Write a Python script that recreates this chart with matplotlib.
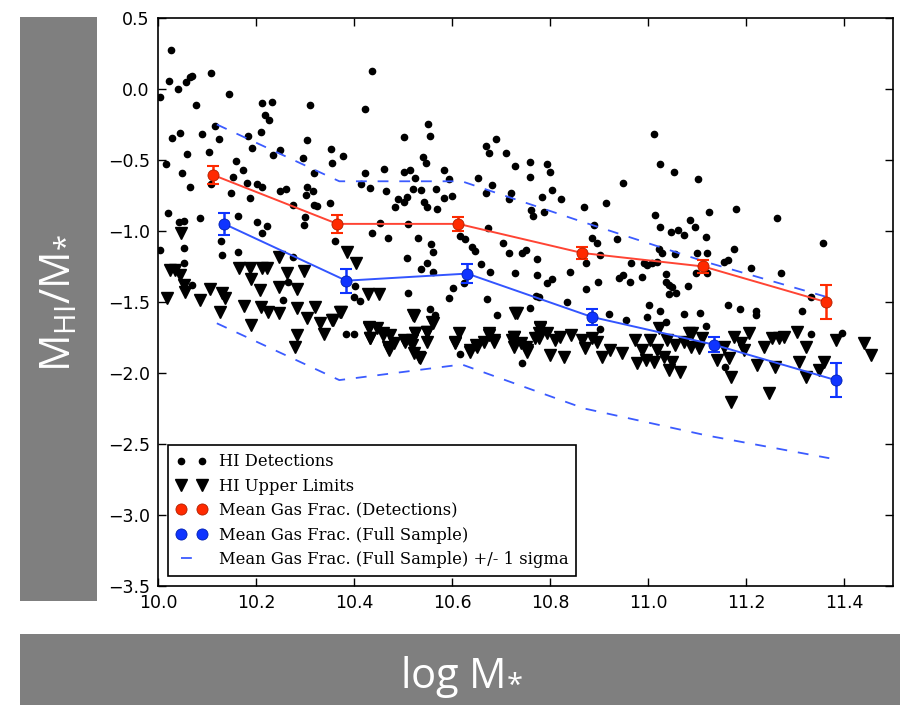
import numpy as np
import matplotlib
matplotlib.use("Agg")
import matplotlib.pyplot as plt
from matplotlib.patches import Rectangle

# HI detections (log M*, MHI/M*)
det_x = [10.003, 10.026, 10.016, 10.023, 10.041, 10.057, 10.065, 10.070, 10.077, 10.029,
         10.045, 10.060, 10.048, 10.065, 10.089, 10.104, 10.108, 10.116, 10.125, 10.108,
         10.145, 10.159, 10.153, 10.149, 10.174, 10.183, 10.191, 10.181, 10.188, 10.203,
         10.212, 10.212, 10.219, 10.227, 10.232, 10.210, 10.234, 10.249, 10.248, 10.261,
         10.295, 10.304, 10.311, 10.318, 10.304, 10.301, 10.317, 10.353, 10.355, 10.377,
         10.422, 10.437, 10.423, 10.432, 10.415, 10.462, 10.466, 10.490, 10.503, 10.502,
         10.514, 10.524, 10.508, 10.520, 10.537, 10.541, 10.546, 10.551, 10.556, 10.567,
         10.584, 10.594, 10.584, 10.600, 10.654, 10.669, 10.676, 10.689, 10.681, 10.670,
         10.710, 10.728, 10.721, 10.716, 10.760, 10.759, 10.783, 10.794, 10.799, 10.804,
         10.823, 10.950, 11.013, 11.025, 11.054, 11.103,
         10.021, 10.052, 10.043, 10.086, 10.003, 10.052, 10.052, 10.070, 10.128, 10.131,
         10.164, 10.164, 10.203, 10.222, 10.213, 10.276, 10.266, 10.255, 10.276, 10.299,
         10.297, 10.324, 10.350, 10.319, 10.362, 10.402, 10.399, 10.413, 10.384, 10.400,
         10.437, 10.454, 10.469, 10.511, 10.530, 10.558, 10.561, 10.509, 10.548, 10.537,
         10.561, 10.511, 10.556, 10.565, 10.484, 10.501, 10.542, 10.549, 10.569, 10.617,
         10.627, 10.641, 10.646, 10.660, 10.677, 10.673, 10.705, 10.716, 10.743, 10.750,
         10.774, 10.761, 10.765, 10.774, 10.777, 10.759, 10.671, 10.692, 10.594, 10.602,
         10.624, 10.616, 10.743, 10.729, 10.793, 10.787,
         10.870, 10.914, 10.889, 10.885, 10.895, 10.903, 10.874, 10.874, 10.898, 10.840,
         10.936, 10.940, 10.949, 10.964, 10.966, 10.988, 10.992, 10.998, 11.009, 11.019,
         11.015, 11.024, 11.047, 11.061, 11.073, 11.085, 11.095, 11.119, 11.124, 11.179,
         11.264, 11.022, 11.029, 11.056, 11.101, 11.121, 11.155, 11.163, 11.175, 11.211,
         11.271, 11.120, 11.098, 11.082, 11.036, 11.037, 11.043, 11.049, 11.058, 11.043,
         11.002, 11.024, 10.998, 11.036, 11.073, 11.106, 11.163, 11.188, 11.220, 11.220,
         11.315, 11.332, 11.358, 11.332, 11.395, 10.920, 10.956, 10.902, 10.804, 10.835,
         10.772, 11.118, 11.157]
det_y = [-0.059, 0.275, -0.528, 0.056, -0.002, 0.049, 0.087, 0.092, -0.110, -0.343,
         -0.312, -0.460, -0.594, -0.692, -0.319, -0.444, 0.115, -0.261, -0.352, -0.669,
         -0.035, -0.505, -0.617, -0.735, -0.570, -0.329, -0.418, -0.660, -0.765, -0.669,
         -0.692, -0.101, -0.183, -0.218, -0.094, -0.303, -0.467, -0.430, -0.718, -0.704,
         -0.486, -0.362, -0.110, -0.594, -0.692, -0.746, -0.718, -0.420, -0.519, -0.469,
         -0.143, 0.124, -0.594, -0.695, -0.669, -0.561, -0.718, -0.777, -0.336, -0.585,
         -0.570, -0.629, -0.758, -0.704, -0.711, -0.477, -0.519, -0.244, -0.329, -0.704,
         -0.570, -0.636, -0.770, -0.751, -0.627, -0.401, -0.453, -0.352, -0.676, -0.735,
         -0.453, -0.542, -0.735, -0.777, -0.512, -0.617, -0.758, -0.528, -0.587, -0.711,
         -0.777, -0.660, -0.319, -0.528, -0.587, -0.636,
         -0.876, -0.927, -0.934, -0.911, -1.134, -1.117, -1.223, -1.380, -1.068, -1.169,
         -0.894, -1.146, -0.934, -0.965, -1.012, -1.186, -1.359, -1.486, -0.817, -0.899,
         -0.958, -0.824, -0.805, -0.817, -1.071, -1.387, -1.467, -1.491, -1.725, -1.725,
         -1.016, -0.946, -1.052, -0.951, -1.052, -1.094, -1.146, -1.193, -1.228, -1.270,
         -1.287, -1.434, -1.552, -1.592, -0.833, -0.793, -0.793, -0.829, -0.847, -1.035,
         -1.054, -1.110, -1.139, -1.232, -1.287, -0.981, -1.087, -1.153, -1.157, -1.134,
         -1.200, -0.852, -0.894, -1.310, -1.463, -1.545, -1.479, -1.592, -1.474, -1.401,
         -1.368, -1.869, -1.927, -1.294, -1.364, -0.864,
         -0.833, -0.805, -0.958, -1.052, -1.087, -1.169, -1.228, -1.411, -1.357, -1.287,
         -1.059, -1.333, -1.310, -1.357, -1.223, -1.326, -1.223, -1.239, -1.228, -1.216,
         -0.887, -0.975, -1.010, -0.993, -1.028, -0.923, -0.975, -1.045, -0.864, -0.845,
         -0.911, -1.129, -1.153, -1.162, -1.153, -1.157, -1.216, -1.204, -1.129, -1.263,
         -1.293, -1.293, -1.293, -1.387, -1.303, -1.357, -1.380, -1.397, -1.439, -1.443,
         -1.521, -1.561, -1.608, -1.638, -1.587, -1.575, -1.521, -1.552, -1.561, -1.592,
         -1.561, -1.467, -1.087, -1.725, -1.720, -1.585, -1.627, -1.692, -1.336, -1.498,
         -1.456, -1.672, -1.958]

# HI upper limits
lim_x = [10.046, 10.025, 10.035, 10.045, 10.052, 10.055, 10.018, 10.086, 10.106, 10.130,
         10.137, 10.127, 10.166, 10.188, 10.212, 10.222, 10.189, 10.208, 10.246, 10.263,
         10.283, 10.298, 10.246, 10.176, 10.189, 10.210, 10.225, 10.246, 10.283, 10.304,
         10.321, 10.331, 10.338, 10.355, 10.373, 10.283, 10.280, 10.385, 10.404, 10.428,
         10.450, 10.430, 10.433, 10.460, 10.471, 10.501, 10.518, 10.522, 10.534, 10.525,
         10.549, 10.561, 10.522, 10.607, 10.637, 10.648, 10.675, 10.685, 10.733, 10.723,
         10.750, 10.753, 10.780, 10.777, 10.794,
         10.372, 10.357, 10.430, 10.433, 10.447, 10.460, 10.474, 10.470, 10.481, 10.505,
         10.518, 10.525, 10.532, 10.549, 10.549, 10.559, 10.520, 10.607, 10.614, 10.637,
         10.651, 10.665, 10.675, 10.685, 10.726, 10.726, 10.729,
         10.726, 10.740, 10.753, 10.770, 10.780, 10.777, 10.801, 10.811, 10.828, 10.821,
         10.842, 10.866, 10.872, 10.886, 10.896, 10.906, 10.923, 10.947, 10.974, 10.978,
         10.988, 10.995, 11.005, 11.012, 11.019, 11.022, 11.032, 11.039, 11.049, 11.066,
         11.042, 11.056, 11.073, 11.083, 11.087,
         11.090, 11.111, 11.104, 11.141, 11.155, 11.165, 11.175, 11.169, 11.189, 11.196,
         11.206, 11.223, 11.236, 11.254, 11.267, 11.277, 11.260, 11.305, 11.308, 11.322,
         11.322, 11.359, 11.349, 11.383, 11.441, 11.455, 11.247, 11.169]
lim_y = [-1.016, -1.275, -1.275, -1.310, -1.380, -1.427, -1.474, -1.486, -1.411, -1.434,
         -1.474, -1.568, -1.263, -1.263, -1.263, -1.263, -1.338, -1.416, -1.186, -1.298,
         -1.411, -1.279, -1.397, -1.528, -1.662, -1.538, -1.568, -1.580, -1.545, -1.615,
         -1.538, -1.650, -1.725, -1.627, -1.568, -1.732, -1.815, -1.146, -1.223, -1.446,
         -1.446, -1.685, -1.756, -1.720, -1.838, -1.768, -1.768, -1.862, -1.897, -1.720,
         -1.709, -1.646, -1.596, -1.791, -1.850, -1.803, -1.732, -1.768, -1.580, -1.768,
         -1.815, -1.850, -1.685, -1.756, -1.720,
         -1.568, -1.627, -1.674, -1.756, -1.686, -1.732, -1.732, -1.815, -1.791, -1.780,
         -1.803, -1.720, -1.885, -1.709, -1.780, -1.639, -1.592, -1.780, -1.720, -1.838,
         -1.815, -1.780, -1.720, -1.780, -1.815, -1.744, -1.580,
         -1.744, -1.791, -1.838, -1.756, -1.674, -1.720, -1.873, -1.768, -1.885, -1.744,
         -1.732, -1.768, -1.826, -1.756, -1.780, -1.885, -1.838, -1.862, -1.768, -1.932,
         -1.838, -1.908, -1.768, -1.920, -1.838, -1.686, -1.885, -1.768, -1.920, -1.991,
         -1.979, -1.803, -1.780, -1.720, -1.815,
         -1.720, -1.756, -1.826, -1.908, -1.815, -1.897, -1.744, -2.026, -1.791, -1.838,
         -1.720, -1.944, -1.815, -1.756, -1.756, -1.744, -1.956, -1.709, -1.920, -2.026,
         -1.815, -1.920, -1.979, -1.768, -1.791, -1.873, -2.143, -2.202]

# binned means
mdet_x = [10.112, 10.366, 10.613, 10.866, 11.113, 11.363]
mdet_y = [-0.605, -0.95, -0.95, -1.155, -1.25, -1.50]
mdet_err = [0.065, 0.065, 0.05, 0.04, 0.045, 0.12]

mall_x = [10.135, 10.384, 10.631, 10.885, 11.134, 11.383]
mall_y = [-0.95, -1.35, -1.30, -1.605, -1.80, -2.05]
mall_err = [0.075, 0.085, 0.065, 0.055, 0.05, 0.12]

sig_x = [10.12, 10.37, 10.62, 10.87, 11.12, 11.37]
sig_hi = [-0.25, -0.65, -0.65, -0.94, -1.22, -1.47]
sig_lo = [-1.65, -2.05, -1.94, -2.25, -2.44, -2.60]

xticks = [10.0, 10.2, 10.4, 10.6, 10.8, 11.0, 11.2, 11.4]
yticks = [0.5, 0.0, -0.5, -1.0, -1.5, -2.0, -2.5, -3.0, -3.5]

red = '#ff2a00'
blue = '#0f34ff'

fig = plt.figure(figsize=(9.02, 7.05), dpi=100)
fig.patch.set_facecolor('white')

# gray label boxes
fig.patches.append(Rectangle((0.0222, 0.1475), 0.0854, 0.828, transform=fig.transFigure,
                             facecolor='#7f7f7f', edgecolor='none', zorder=0))
fig.patches.append(Rectangle((0.0222, 0.0), 0.9756, 0.1007, transform=fig.transFigure,
                             facecolor='#7f7f7f', edgecolor='none', zorder=0))

plt.rcParams['mathtext.default'] = 'regular'
fig.text(0.066, 0.57, r'M$_{HI}$/M$_{*}$', rotation=90, ha='center', va='center',
         color='white', fontsize=30, family='Open Sans')
fig.text(0.512, 0.04, r'log M$_{*}$', ha='center', va='center',
         color='white', fontsize=30, family='Open Sans')

ax = fig.add_axes([0.1752, 0.1688, 0.8148, 0.8057])

h_det, = ax.plot(det_x, det_y, 'o', color='black', ms=4.5, mec='black', zorder=2)
h_lim, = ax.plot(lim_x, lim_y, 'v', color='black', ms=8, mec='black', zorder=2)

ax.plot(mdet_x, mdet_y, '-', color='#ff4433', lw=1.4, zorder=3)
ax.errorbar(mdet_x, mdet_y, yerr=mdet_err, fmt='none', ecolor=red,
            capsize=4, elinewidth=1.8, capthick=1.5, zorder=4)
h_mdet, = ax.plot(mdet_x, mdet_y, 'o', color=red, ms=8, mec='#b02000', mew=0.6, zorder=5)

ax.plot(mall_x, mall_y, '-', color='#3355ff', lw=1.4, zorder=3)
ax.errorbar(mall_x, mall_y, yerr=mall_err, fmt='none', ecolor=blue,
            capsize=4, elinewidth=1.8, capthick=1.5, zorder=4)
h_mall, = ax.plot(mall_x, mall_y, 'o', color=blue, ms=8, mec='#0020b0', mew=0.6, zorder=5)

h_sig, = ax.plot(sig_x, sig_hi, '--', color='#3b5bff', lw=1.3, dashes=(6, 6), zorder=3)
ax.plot(sig_x, sig_lo, '--', color='#3b5bff', lw=1.3, dashes=(6, 6), zorder=3)

ax.set_xlim(10.0, 11.5)
ax.set_ylim(-3.5, 0.5)
ax.set_xticks(xticks)
ax.set_yticks(yticks)
ax.set_xticklabels(['%.1f' % t for t in xticks])
ax.tick_params(direction='in', top=True, right=True, length=6, width=1, labelsize=12.5, pad=6)
for s in ax.spines.values():
    s.set_linewidth(1.2)

leg = ax.legend([h_det, h_lim, h_mdet, h_mall, h_sig],
                ['HI Detections', 'HI Upper Limits', 'Mean Gas Frac. (Detections)',
                 'Mean Gas Frac. (Full Sample)', 'Mean Gas Frac. (Full Sample) +/- 1 sigma'],
                loc='lower left', numpoints=2, fancybox=False,
                framealpha=1, edgecolor='black', borderaxespad=0.6, handlelength=1.9,
                labelspacing=0.45, borderpad=0.5, handletextpad=0.7,
                prop={'family': 'DejaVu Serif', 'size': 11.8})
leg.get_frame().set_linewidth(1.2)

fig.savefig('out.png', dpi=100)
